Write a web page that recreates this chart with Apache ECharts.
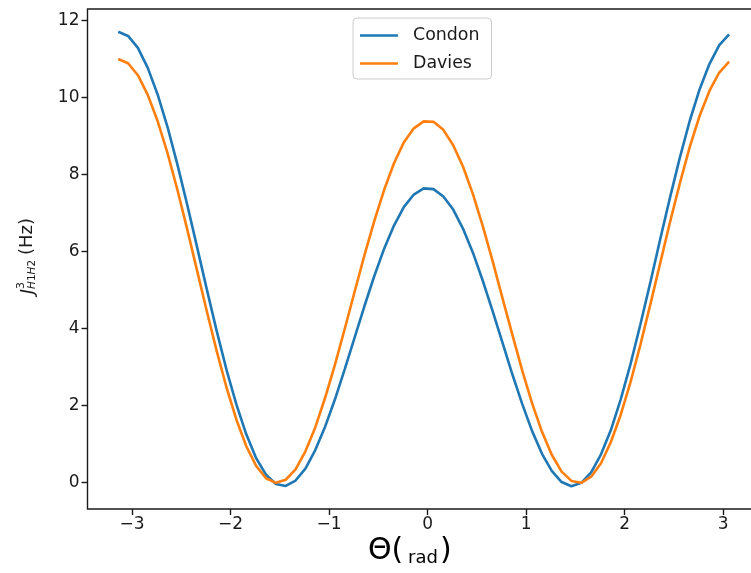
<!DOCTYPE html>
<html>
<head>
<meta charset="utf-8">
<script src="https://cdn.jsdelivr.net/npm/echarts@6/dist/echarts.min.js"></script>
<style>
html,body{margin:0;padding:0;background:#fff;}
#c{width:751px;height:573px;}
</style>
</head>
<body>
<div id="c"></div>
<script>
const theta = [-3.14,-3.04,-2.94,-2.84,-2.74,-2.64,-2.54,-2.44,-2.34,-2.24,-2.14,-2.04,-1.94,-1.84,-1.74,-1.64,-1.54,-1.44,-1.34,-1.24,-1.14,-1.04,-0.94,-0.84,-0.74,-0.64,-0.54,-0.44,-0.34,-0.24,-0.14,-0.04,0.06,0.16,0.26,0.36,0.46,0.56,0.66,0.76,0.86,0.96,1.06,1.16,1.26,1.36,1.46,1.56,1.66,1.76,1.86,1.96,2.06,2.16,2.26,2.36,2.46,2.56,2.66,2.76,2.86,2.96,3.06];
const condon = [11.71,11.60,11.29,10.77,10.08,9.24,8.27,7.22,6.12,5.01,3.93,2.92,2.02,1.25,0.63,0.20,-0.04,-0.09,0.05,0.36,0.84,1.45,2.16,2.95,3.77,4.59,5.37,6.08,6.68,7.16,7.48,7.64,7.62,7.43,7.09,6.59,5.97,5.24,4.45,3.63,2.81,2.04,1.34,0.75,0.30,0.01,-0.10,-0.01,0.26,0.73,1.36,2.16,3.08,4.11,5.19,6.31,7.40,8.44,9.39,10.21,10.87,11.36,11.64];
const davies = [11.00,10.89,10.58,10.07,9.39,8.56,7.61,6.58,5.51,4.44,3.41,2.46,1.63,0.94,0.43,0.11,-0.01,0.07,0.34,0.81,1.43,2.20,3.06,4.00,4.96,5.91,6.80,7.61,8.30,8.84,9.20,9.38,9.37,9.16,8.76,8.20,7.49,6.66,5.75,4.79,3.84,2.91,2.06,1.32,0.72,0.28,0.04,-0.01,0.15,0.50,1.05,1.76,2.61,3.58,4.62,5.69,6.76,7.77,8.71,9.52,10.17,10.65,10.93];
const xTicks = [-3,-2,-1,0,1,2,3];
const yTicks = [0,2,4,6,8,10,12];
const seriesNames = ['Condon','Davies'];

const FONT = 'DejaVu Sans';
const fmt = v => String(v).replace('-', '\u2212');

const chart = echarts.init(document.getElementById('c'), null, {renderer:'canvas'});
chart.setOption({
  animation:false,
  backgroundColor:'#fff',
  grid:{left:87.5, top:9, width:672, height:500, show:true, borderColor:'#1a1a1a', borderWidth:1.4, containLabel:false, outerBoundsMode:'none'},
  xAxis:{
    type:'value', min:-3.4516, max:3.3684,
    axisLine:{show:false, onZero:false},
    splitLine:{show:false},
    axisTick:{show:true, inside:false, customValues:xTicks, length:6, lineStyle:{color:'#1a1a1a', width:1.4}},
    axisLabel:{customValues:xTicks, formatter:fmt, margin:7, fontFamily:FONT, fontSize:17, color:'#1a1a1a'}
  },
  yAxis:{
    type:'value', min:-0.69, max:12.30,
    axisLine:{show:false, onZero:false},
    splitLine:{show:false},
    axisTick:{show:true, inside:false, customValues:yTicks, length:6, lineStyle:{color:'#1a1a1a', width:1.4}},
    axisLabel:{customValues:yTicks, formatter:fmt, margin:8, fontFamily:FONT, fontSize:17, color:'#1a1a1a'}
  },
  legend:{
    orient:'vertical', left:353, top:18,
    backgroundColor:'rgba(255,255,255,0.8)', borderColor:'#cccccc', borderWidth:1, borderRadius:4,
    padding:[8,12,6,7],
    icon:'rect', itemWidth:38, itemHeight:2.6, itemGap:9,
    textStyle:{fontFamily:FONT, fontSize:17.4, color:'#1a1a1a', lineHeight:19, padding:[0,0,0,10]},
    data:seriesNames
  },
  series:[
    {name:seriesNames[0], type:'line', showSymbol:false, symbol:'none', data:theta.map((x,i)=>[x,condon[i]]), lineStyle:{color:'#1f77b4', width:2.6}, itemStyle:{color:'#1f77b4'}},
    {name:seriesNames[1], type:'line', showSymbol:false, symbol:'none', data:theta.map((x,i)=>[x,davies[i]]), lineStyle:{color:'#ff7f0e', width:2.6}, itemStyle:{color:'#ff7f0e'}}
  ],
  graphic:[
    {type:'group', x:27, y:256, rotation:Math.PI/2, children:[
      {type:'text', x:-33, y:1, style:{text:'J', font:'italic 18px "DejaVu Sans"', fill:'#1a1a1a', align:'right', verticalAlign:'middle'}},
      {type:'text', x:-33, y:-6, style:{text:'3', font:'11px "DejaVu Sans"', fill:'#1a1a1a', align:'left', verticalAlign:'middle'}},
      {type:'text', x:-33, y:5, style:{text:'{i|H}1{i|H}2', font:'10.5px "DejaVu Sans"', fill:'#1a1a1a', align:'left', verticalAlign:'middle', rich:{i:{font:'italic 10.5px "DejaVu Sans"', fill:'#1a1a1a'}}}},
      {type:'text', x:1, y:0, style:{text:'(Hz)', font:'18px "DejaVu Sans"', fill:'#1a1a1a', align:'left', verticalAlign:'middle'}}
    ]},
    {type:'text', left:368, top:536, style:{text:'\u0398(', font:'30px "DejaVu Sans"', fill:'#000'}},
    {type:'text', left:408, top:549, style:{text:'rad', font:'18px "DejaVu Sans"', fill:'#000'}},
    {type:'text', left:440, top:536, style:{text:')', font:'30px "DejaVu Sans"', fill:'#000'}}
  ]
});
</script>
</body>
</html>
